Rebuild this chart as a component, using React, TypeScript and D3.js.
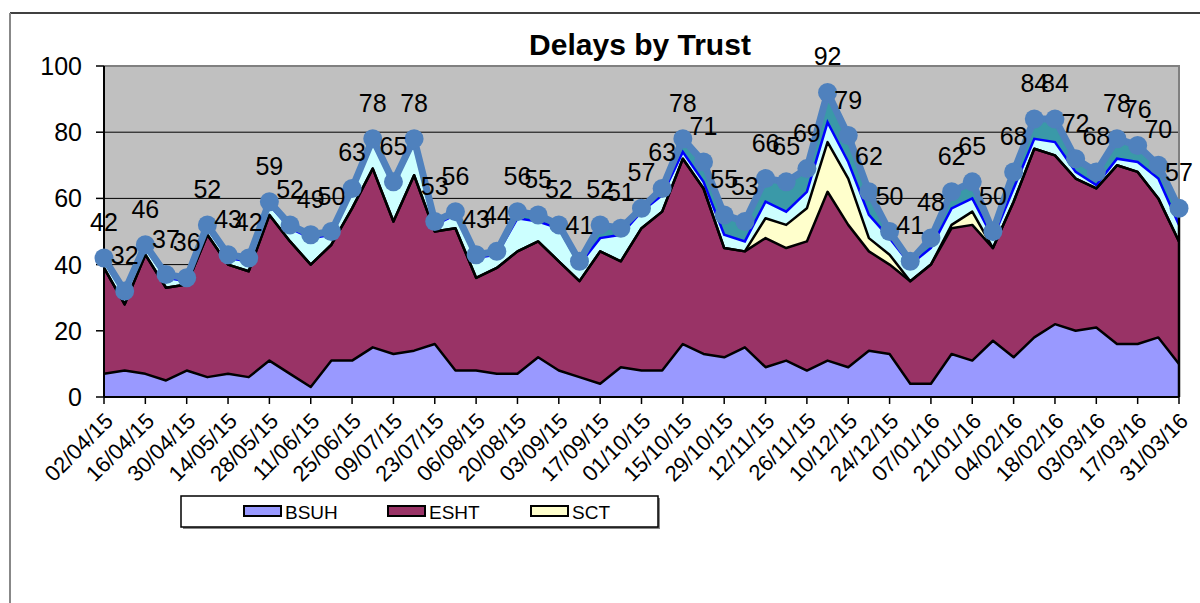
import * as d3 from "d3";

// weekly categories
const WEEKS = [
  "02/04/15", "09/04/15", "16/04/15", "23/04/15", "30/04/15", "07/05/15", "14/05/15", "21/05/15",
  "28/05/15", "04/06/15", "11/06/15", "18/06/15", "25/06/15", "02/07/15", "09/07/15", "16/07/15",
  "23/07/15", "30/07/15", "06/08/15", "13/08/15", "20/08/15", "27/08/15", "03/09/15", "10/09/15",
  "17/09/15", "24/09/15", "01/10/15", "08/10/15", "15/10/15", "22/10/15", "29/10/15", "05/11/15",
  "12/11/15", "19/11/15", "26/11/15", "03/12/15", "10/12/15", "17/12/15", "24/12/15", "31/12/15",
  "07/01/16", "14/01/16", "21/01/16", "28/01/16", "04/02/16", "11/02/16", "18/02/16", "25/02/16",
  "03/03/16", "10/03/16", "17/03/16", "24/03/16", "31/03/16",
];

const BSUH = [7, 8, 7, 5, 8, 6, 7, 6, 11, 7, 3, 11, 11, 15, 13, 14, 16, 8, 8, 7, 7, 12, 8, 6, 4, 9, 8, 8, 16, 13, 12, 15, 9, 11, 8, 11, 9, 14, 13, 4, 4, 13, 11, 17, 12, 18, 22, 20, 21, 16, 16, 18, 10];
const ESHT = [32, 20, 36, 28, 26, 43, 33, 32, 44, 40, 37, 35, 46, 54, 40, 53, 34, 43, 28, 32, 37, 35, 33, 29, 40, 32, 43, 48, 56, 50, 33, 29, 39, 34, 39, 51, 43, 30, 27, 31, 36, 38, 41, 28, 47, 57, 51, 46, 42, 54, 52, 42, 37];
const SCT = [0, 0, 0, 0, 0, 0, 0, 0, 0, 0, 0, 0, 0, 0, 0, 0, 0, 0, 0, 0, 0, 0, 0, 0, 0, 0, 0, 0, 0, 0, 0, 0, 6, 7, 10, 15, 14, 4, 3, 0, 0, 1, 4, 0, 0, 0, 0, 0, 0, 0, 0, 0, 0];
const OTHER_CYAN = [2, 3, 2, 3, 1, 2, 2, 3, 3, 4, 8, 3, 5, 8, 11, 10, 2, 4, 6, 4, 10, 6, 10, 5, 4, 8, 5, 5, 2, 2, 4, 3, 5, 4, 5, 6, 5, 7, 5, 5, 5, 5, 4, 3, 4, 3, 4, 2, 1, 2, 3, 6, 5];
const OTHER_TEAL = [1, 1, 1, 1, 1, 1, 1, 1, 1, 1, 1, 1, 1, 1, 1, 1, 1, 1, 1, 1, 2, 2, 1, 1, 4, 2, 1, 2, 4, 6, 6, 6, 7, 9, 7, 9, 8, 7, 2, 1, 3, 5, 5, 2, 5, 6, 7, 4, 4, 6, 5, 4, 5];
const TOTAL = [42, 32, 46, 37, 36, 52, 43, 42, 59, 52, 49, 50, 63, 78, 65, 78, 53, 56, 43, 44, 56, 55, 52, 41, 52, 51, 57, 63, 78, 71, 55, 53, 66, 65, 69, 92, 79, 62, 50, 41, 48, 62, 65, 50, 68, 84, 84, 72, 68, 78, 76, 70, 57];

const LEGEND = ["BSUH", "ESHT", "SCT"];
const COLORS: Record<string, string> = {
  BSUH: "#9999FF",
  ESHT: "#993366",
  SCT: "#FFFFCC",
  cyan: "#CCFFFF",
  teal: "#3A99A8",
};

const FONT = "'Liberation Sans', Arial, sans-serif";

export default function App() {
  const left = 104, right = 1179, top = 66, bottom = 397;

  const x = d3.scalePoint<string>().domain(WEEKS).range([left, right]);
  const y = d3.scaleLinear().domain([0, 100]).range([bottom, top]);

  const rows = WEEKS.map((w, i) => ({
    week: w,
    BSUH: BSUH[i],
    ESHT: ESHT[i],
    SCT: SCT[i],
    cyan: OTHER_CYAN[i],
    teal: OTHER_TEAL[i],
  }));
  const keys = ["BSUH", "ESHT", "SCT", "cyan", "teal"];
  const stacked = d3.stack<any>().keys(keys)(rows);

  const area = d3
    .area<any>()
    .x((d) => x(d.data.week)!)
    .y0((d) => y(d[0]))
    .y1((d) => y(d[1]));
  const topLine = d3
    .line<any>()
    .x((d) => x(d.data.week)!)
    .y((d) => y(d[1]));
  const totalLine = d3
    .line<number>()
    .x((_, i) => x(WEEKS[i])!)
    .y((d) => y(d));

  const yTicks = y.ticks(5);
  const xTicks = WEEKS.filter((_, i) => i % 2 === 0);
  const lastX = x(WEEKS[WEEKS.length - 1])!;

  const legendX = [244, 388, 531];

  return (
    <svg width={1200} height={603} style={{ position: "absolute", left: 0, top: 0 }} fontFamily={FONT}>
      <rect width={1200} height={603} fill="#fff" />
      {/* outer chart frame */}
      <line x1={10} x2={1200} y1={13} y2={13} stroke="#000" strokeWidth={1.5} />
      <line x1={10} x2={10} y1={13} y2={603} stroke="#888" strokeWidth={2} />

      <text x={640} y={55} textAnchor="middle" fontSize={30} fontWeight="bold">
        Delays by Trust
      </text>

      {/* plot area */}
      <rect x={left} y={top} width={right - left} height={bottom - top} fill="#C0C0C0" />
      {yTicks.filter((t) => t > 0 && t < 100).map((t) => (
        <line key={t} x1={left} x2={right} y1={y(t)} y2={y(t)} stroke="#000" strokeWidth={1} />
      ))}
      <path d={`M${left},${top}H${right}V${bottom}`} fill="none" stroke="#808080" strokeWidth={2} />

      {stacked.map((s) => (
        <path key={s.key} d={area(s)!} fill={COLORS[s.key]} />
      ))}
      {/* series borders */}
      <path d={topLine(stacked[3])!} fill="none" stroke="#0000FF" strokeWidth={2.5} />
      {[2, 1, 0].map((k) => (
        <path key={k} d={topLine(stacked[k])!} fill="none" stroke="#000" strokeWidth={2.5} strokeLinejoin="round" />
      ))}
      <line x1={lastX} x2={lastX} y1={bottom} y2={y(stacked[4][WEEKS.length - 1][1])} stroke="#000" strokeWidth={2.5} />

      {/* axes */}
      <line x1={left} x2={left} y1={top} y2={bottom} stroke="#000" strokeWidth={2} />
      <line x1={left} x2={right} y1={bottom} y2={bottom} stroke="#000" strokeWidth={2} />
      {yTicks.map((t) => (
        <g key={t}>
          <line x1={left - 8} x2={left} y1={y(t)} y2={y(t)} stroke="#000" strokeWidth={1.5} />
          <text x={82} y={y(t)} textAnchor="end" dominantBaseline="central" fontSize={25}>
            {t}
          </text>
        </g>
      ))}
      {xTicks.map((w) => (
        <g key={w}>
          <line x1={x(w)} x2={x(w)} y1={bottom} y2={bottom + 7} stroke="#000" strokeWidth={1.5} />
          <text
            transform={`translate(${x(w)! + 5},${bottom + 20}) rotate(-45)`}
            textAnchor="end"
            dominantBaseline="central"
            fontSize={22}
          >
            {w}
          </text>
        </g>
      ))}

      {/* total line with markers */}
      <path d={totalLine(TOTAL)!} fill="none" stroke="#4F81BD" strokeWidth={7} strokeLinejoin="round" />
      {TOTAL.map((v, i) => (
        <circle key={i} cx={x(WEEKS[i])} cy={y(v)} r={9.5} fill="#4F81BD" />
      ))}
      {TOTAL.map((v, i) => (
        <text key={i} x={x(WEEKS[i])} y={y(v) - 36} textAnchor="middle" dominantBaseline="central" fontSize={25}>
          {v}
        </text>
      ))}

      {/* legend */}
      <rect x={183} y={498} width={477} height={31} fill="#888" />
      <rect x={181} y={496} width={477} height={31} fill="#fff" stroke="#000" strokeWidth={1.5} />
      {LEGEND.map((name, i) => (
        <g key={name}>
          <rect x={legendX[i]} y={506} width={37} height={10} fill={COLORS[name]} stroke="#000" strokeWidth={2} />
          <text
            x={legendX[i] + 41}
            y={512}
            dominantBaseline="central"
            fontSize={19}
            fontFamily="'Liberation Sans Narrow', 'Liberation Sans', Arial, sans-serif"
          >
            {name}
          </text>
        </g>
      ))}
    </svg>
  );
}
